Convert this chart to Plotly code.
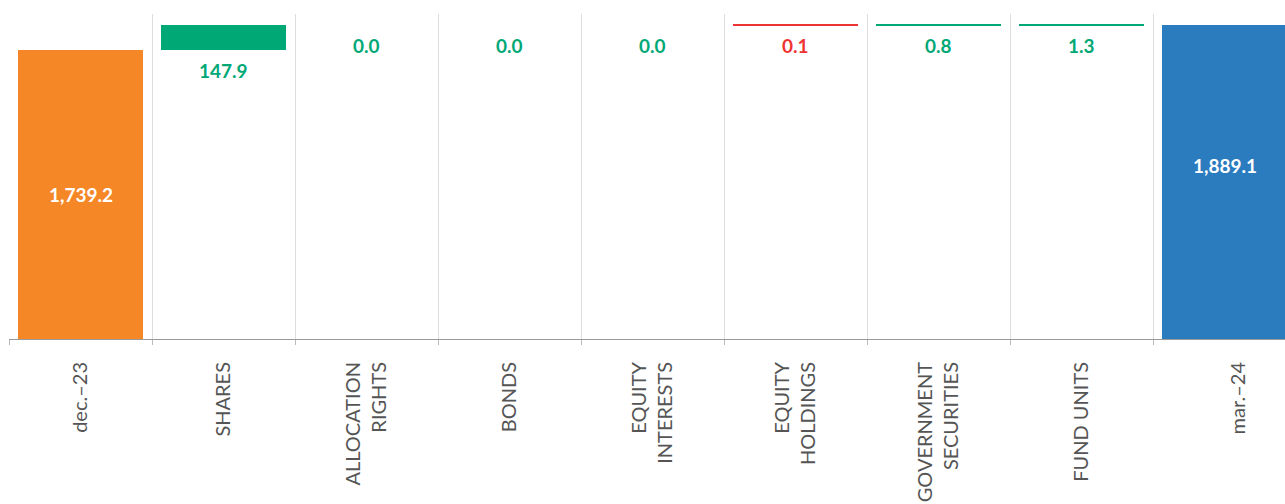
import plotly.graph_objects as go

categories = ["dec.–23", "SHARES", "ALLOCATION<br>RIGHTS", "BONDS", "EQUITY<br>INTERESTS",
              "EQUITY<br>HOLDINGS", "GOVERNMENT<br>SECURITIES", "FUND UNITS", "mar.–24"]
values = [1739.2, 147.9, 0.0, 0.0, 0.0, -0.1, 0.8, 1.3, 1889.1]
measures = ["total", "relative", "relative", "relative", "relative",
            "relative", "relative", "relative", "total"]

ORANGE = "#F58727"
BLUE = "#2B7BBF"
GREEN = "#00A876"
RED = "#EE3333"
FONT = "Lato"

Y_MAX = 1956
PLOT_H = 504 - 14 - 165

positions = list(range(len(categories)))
bases, heights, colors, linew = [], [], [], []
running = 0.0
for i, (v, m) in enumerate(zip(values, measures)):
    if m == "total":
        bases.append(0.0)
        heights.append(v)
        colors.append(ORANGE if i == 0 else BLUE)
        linew.append(0)
        running = v
    else:
        bases.append(running)
        heights.append(v)
        colors.append(RED if v < 0 else GREEN)
        linew.append(2 if (v != 0 and abs(v) < 5) else 0)
        running += v

fig = go.Figure()
fig.add_trace(go.Bar(
    x=positions, y=heights, base=bases, width=0.88,
    marker=dict(color=colors, line=dict(color=colors, width=linew)),
    hoverinfo="skip", showlegend=False,
))

# pixel lift of the total labels (last total sits higher in the bar)
total_lift_px = {0: 0, len(values) - 1: 17}
annotations = []
for i, (v, m) in enumerate(zip(values, measures)):
    if m == "total":
        lift = total_lift_px.get(i, 0) * Y_MAX / PLOT_H
        annotations.append(dict(
            x=positions[i], y=v / 2 + lift, xref="x", yref="y", text=f"{v:,.1f}",
            showarrow=False, yanchor="middle",
            font=dict(family=FONT, size=19, color="white", weight="bold"),
        ))
    else:
        low = min(bases[i], bases[i] + v)
        annotations.append(dict(
            x=positions[i], y=low, xref="x", yref="y", text=f"{abs(v):,.1f}",
            showarrow=False, yanchor="top", yshift=-7,
            font=dict(family=FONT, size=19, color=RED if v < 0 else GREEN, weight="bold"),
        ))

label_pos = positions[:-1] + [positions[-1] + 0.1]
boundaries = [p - 0.5 for p in positions] + [positions[-1] + 0.5]

fig.update_layout(
    width=1285, height=504,
    margin=dict(l=9, r=0, t=14, b=165),
    plot_bgcolor="white", paper_bgcolor="white",
    bargap=0,
    annotations=annotations,
    xaxis=dict(
        range=[-0.5, -0.5 + 1276 / 143],
        tickmode="array", tickvals=label_pos, ticktext=categories,
        tickangle=-90, ticks="", showgrid=False,
        ticklabelstandoff=14,
        tickfont=dict(family=FONT, size=20, color="#555555"),
        showline=True, linecolor="#9a9a9a", linewidth=1,
        minor=dict(tickmode="array", tickvals=boundaries, showgrid=True,
                   gridcolor="#dddddd", gridwidth=1, ticks="outside",
                   ticklen=5, tickcolor="#bbbbbb", tickwidth=1),
        zeroline=False, fixedrange=True,
    ),
    yaxis=dict(range=[0, Y_MAX], visible=False, showgrid=False, zeroline=False),
)

fig.write_html("out.html")
